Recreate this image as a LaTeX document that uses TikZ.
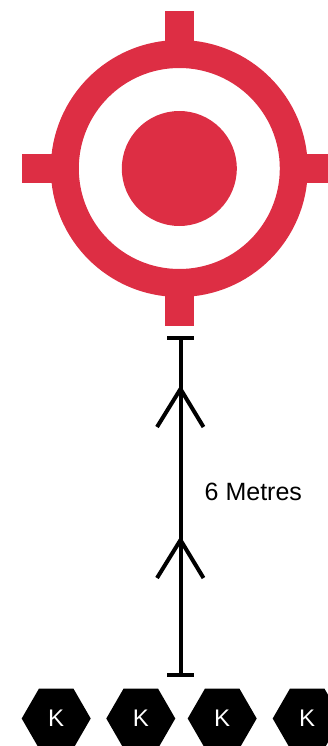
\documentclass[tikz,border=0pt]{standalone}
\usepackage{fontspec}
\setmainfont{Liberation Sans}
\usetikzlibrary{shapes.geometric}
\definecolor{targetred}{RGB}{221,46,68}
\tikzset{
  ink/.style={line width=4pt, black},
  hexk/.style={regular polygon, regular polygon sides=6, minimum size=69pt, inner sep=0pt, fill=black, text=white, font=\fontsize{24}{24}\selectfont},
  lbl/.style={font=\fontsize{25}{25}\selectfont, inner sep=0pt, anchor=west},
}
\begin{document}
\begin{tikzpicture}[x=1pt,y=-1pt]
\useasboundingbox (0,0) rectangle (328,746);
\clip (0,0) rectangle (328,746);
% target
\coordinate (tc) at (179.3,168.5);
\begin{scope}[fill=targetred]
  \fill ([xshift=-14.35pt,yshift=157.5pt]tc) rectangle ([xshift=14.35pt,yshift=118pt]tc);
  \fill ([xshift=-14.35pt,yshift=-157.5pt]tc) rectangle ([xshift=14.35pt,yshift=-118pt]tc);
  \fill ([xshift=-157.5pt,yshift=-14.35pt]tc) rectangle ([xshift=-118pt,yshift=14.35pt]tc);
  \fill ([xshift=157.5pt,yshift=-14.35pt]tc) rectangle ([xshift=118pt,yshift=14.35pt]tc);
  \draw[targetred, line width=28pt] (tc) circle[radius=114.5pt];
  \fill (tc) circle[radius=57.5pt];
\end{scope}
% distance marker
\coordinate (top) at (180.5,338.3);
\coordinate (bot) at (180.5,675);
\coordinate (h1) at (180.5,389);
\coordinate (h2) at (180.5,540);
\draw[ink] (top) -- (bot);
\draw[ink] ([xshift=-13.3pt]top) -- ([xshift=13.3pt]top);
\draw[ink] ([xshift=-13.3pt]bot) -- ([xshift=13.3pt]bot);
\draw[ink, line join=miter] ([xshift=-23.5pt,yshift=-38pt]h1) -- (h1) -- ([xshift=23pt,yshift=-38pt]h1);
\draw[ink, line join=miter] ([xshift=-23.5pt,yshift=-38pt]h2) -- (h2) -- ([xshift=23pt,yshift=-38pt]h2);
\node[lbl] (dist) at (204.5,492) {6 Metres};
% players
\node[hexk] (k1) at (56.2,718.5) {K};
\node[hexk] (k2) at (140.8,718.5) {K};
\node[hexk] (k3) at (222.2,718.5) {K};
\node[hexk] (k4) at (307.2,718.5) {K};
\end{tikzpicture}
\end{document}
